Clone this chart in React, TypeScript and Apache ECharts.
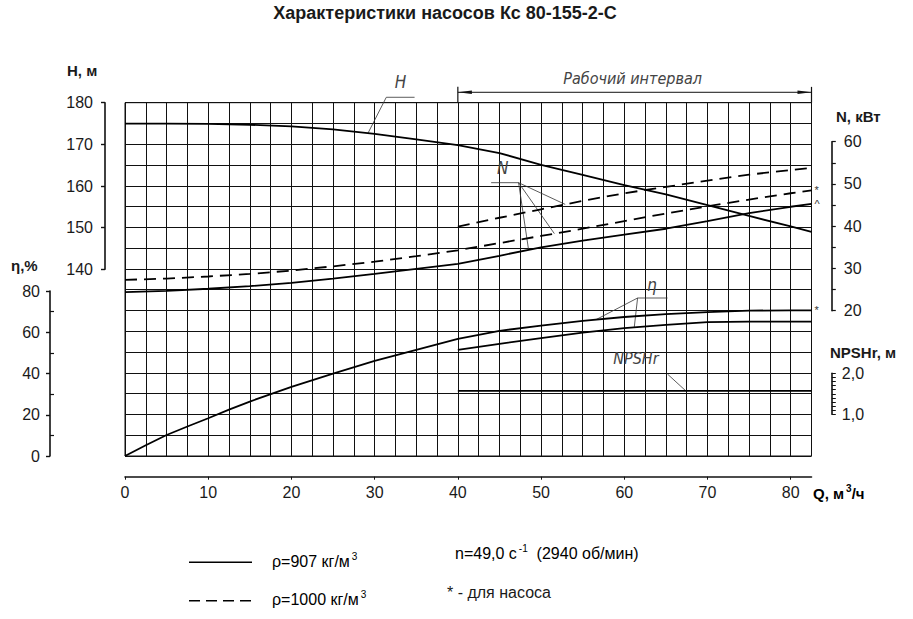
import React, { useEffect, useRef } from 'react';
import * as echarts from 'echarts';

const FONT = 'Liberation Sans, Arial, sans-serif';
const ITALIC_FONT = 'Liberation Sans Narrow, DejaVu Sans Condensed, Liberation Sans, sans-serif';

// Q, m3/h
const Q_FULL = [0, 5, 10, 15, 20, 25, 30, 35, 40, 45, 50, 55, 60, 65, 70, 75, 80, 82.5];
const Q_WORK = [40, 45, 50, 55, 60, 65, 70, 75, 80, 82.5];
const Q_ETA = [0, 2.5, 5, 7.5, 10, 12.5, 15, 20, 25, 30, 35, 40, 45, 50, 55, 60, 65, 70, 75, 80, 82.5];
const Q_TICKS = [0, 10, 20, 30, 40, 50, 60, 70, 80];

// H, m
const H_907 = [175, 175, 174.9, 174.7, 174.3, 173.6, 172.5, 171.2, 169.8, 167.9, 165.1, 162.7, 160.2, 158, 155.4, 152.8, 150.3, 149];
// N, kW
const N_907 = [24.4, 24.7, 25.2, 25.8, 26.6, 27.6, 28.7, 29.9, 31.1, 33.0, 35.0, 36.6, 38.0, 39.4, 41.2, 43.1, 44.6, 45.3];
const N_1000 = [27.3, 27.6, 28.1, 28.7, 29.5, 30.5, 31.6, 32.9, 34.3, 36, 37.7, 39.4, 41.2, 43, 44.7, 46.3, 47.8, 48.5];
const N_1000_UNIT = [39.9, 42, 44, 46, 47.8, 49.3, 50.8, 52.2, 53.3, 53.8];
// eta, %
const ETA_PUMP = [0, 5.2, 10.2, 14.3, 18.3, 22.5, 26.4, 33.5, 39.9, 46.1, 51.5, 56.8, 60.7, 63.2, 65.5, 67.4, 68.8, 69.8, 70.5, 70.6, 70.6];
const ETA_UNIT = [51.5, 54.4, 57.2, 59.8, 62.0, 63.6, 64.9, 65.2, 65.2, 65.2];
// NPSHr, m
const Q_NPSH = [40, 82.5];
const NPSH = [1.57, 1.57];

const pairs = (xs: number[], ys: number[]) => xs.map((x, i) => [x, ys[i]]);

const interp = (xs: number[], ys: number[], x: number) => {
  for (let i = 1; i < xs.length; i++) {
    if (x <= xs[i]) {
      const t = (x - xs[i - 1]) / (xs[i] - xs[i - 1]);
      return ys[i - 1] + t * (ys[i] - ys[i - 1]);
    }
  }
  return ys[ys.length - 1];
};

const INK = '#111';
const axisText = { color: '#1a1a1a', fontFamily: FONT, fontSize: 16 };
const axisLine = { show: true, onZero: false, lineStyle: { color: INK, width: 1.6 } };

const hiddenX = (gridIndex: number) => ({ type: 'value', gridIndex, min: 0, max: 82.5, show: false });

const curve = (name: string, xi: number, yi: number, data: number[][], dashed = false) => ({
  type: 'line',
  name,
  xAxisIndex: xi,
  yAxisIndex: yi,
  data,
  symbol: 'none',
  clip: false,
  silent: true,
  lineStyle: { color: '#000', width: 1.8, type: dashed ? [12, 7] : 'solid' },
});

const App: React.FC = () => {
  const chartRef = useRef<HTMLDivElement>(null);

  useEffect(() => {
    if (!chartRef.current) return;
    const chart = echarts.init(chartRef.current, undefined, { renderer: 'svg' });

    const option: any = {
      animation: false,
      textStyle: { fontFamily: FONT },
      grid: [
        { left: 125, top: 102.7, width: 686.5, height: 353.3, show: true, borderColor: INK, borderWidth: 1 },
        { left: 125, top: 102.7, width: 686.5, height: 166.6 },
        { left: 125, top: 291, width: 686.5, height: 165 },
        { left: 125, top: 141.7, width: 686.5, height: 169 },
        { left: 125, top: 373.3, width: 686.5, height: 41 },
      ],
      xAxis: [
        {
          type: 'value', gridIndex: 0, min: 0, max: 82.5, interval: 2.5,
          axisLine: { show: false }, axisTick: { show: false }, axisLabel: { show: false },
          splitLine: { show: true, lineStyle: { color: INK, width: 1 } },
        },
        {
          type: 'value', gridIndex: 0, position: 'bottom', offset: 20.7, min: 0, max: 82.5, interval: 10,
          axisLine,
          axisTick: { show: true, length: 3, customValues: Q_TICKS, lineStyle: { color: INK } },
          axisLabel: { customValues: Q_TICKS, margin: 8, ...axisText },
          splitLine: { show: false },
        },
        hiddenX(1), hiddenX(2), hiddenX(3), hiddenX(4),
      ],
      yAxis: [
        {
          type: 'value', gridIndex: 0, min: 0, max: 17, interval: 1,
          axisLine: { show: false }, axisTick: { show: false }, axisLabel: { show: false },
          splitLine: { show: true, lineStyle: { color: INK, width: 1 } },
        },
        {
          type: 'value', gridIndex: 1, position: 'left', offset: 20, min: 140, max: 180, interval: 10,
          axisLine,
          axisTick: { show: true, length: 4, lineStyle: { color: INK, width: 1.4 } },
          axisLabel: { margin: 12, ...axisText },
          splitLine: { show: false },
        },
        {
          type: 'value', gridIndex: 2, position: 'left', offset: 75, min: 0, max: 80, interval: 20,
          axisLine,
          axisTick: { show: true, length: 4, lineStyle: { color: INK, width: 1.4 } },
          axisLabel: { margin: 10, ...axisText },
          splitLine: { show: false },
        },
        {
          type: 'value', gridIndex: 2, position: 'left', offset: 75, min: 0, max: 80, interval: 10,
          axisLine: { show: false, onZero: false },
          axisTick: { show: true, inside: true, length: 4, customValues: [10, 30, 50, 70], lineStyle: { color: INK, width: 1.2 } },
          axisLabel: { show: false },
          splitLine: { show: false },
        },
        {
          type: 'value', gridIndex: 3, position: 'right', offset: 20.3, min: 20, max: 60, interval: 5,
          axisLine,
          axisTick: { show: true, length: 4, lineStyle: { color: INK, width: 1.2 } },
          axisLabel: { margin: 12, ...axisText, formatter: (v: number) => (v % 10 === 0 ? String(v) : '') },
          splitLine: { show: false },
        },
        {
          type: 'value', gridIndex: 4, position: 'right', offset: 20.3, min: 1, max: 2, interval: 0.1,
          axisLine,
          axisTick: { show: true, length: 4, lineStyle: { color: INK, width: 1 } },
          axisLabel: {
            margin: 10, ...axisText,
            formatter: (v: number) => (Math.abs(v - Math.round(v)) < 1e-6 ? Math.round(v).toFixed(1).replace('.', ',') : ''),
          },
          splitLine: { show: false },
        },
      ],
      series: [
        curve('H', 2, 1, pairs(Q_FULL, H_907)),
        curve('N 907', 4, 4, pairs(Q_FULL, N_907)),
        curve('N 1000', 4, 4, pairs(Q_FULL, N_1000), true),
        curve('N 1000 агрегат', 4, 4, pairs(Q_WORK, N_1000_UNIT), true),
        curve('η насос', 3, 2, pairs(Q_ETA, ETA_PUMP)),
        curve('η агрегат', 3, 2, pairs(Q_WORK, ETA_UNIT)),
        curve('NPSHr', 5, 5, pairs(Q_NPSH, NPSH)),
      ],
    };
    chart.setOption(option);

    const px = (seriesIndex: number, q: number, v: number) =>
      chart.convertToPixel({ seriesIndex }, [q, v]) as number[];
    const ln = (a: number[], b: number[], w = 0.8, color = '#333') => ({
      type: 'line', silent: true,
      shape: { x1: a[0], y1: a[1], x2: b[0], y2: b[1] },
      style: { stroke: color, lineWidth: w },
    });
    const label = (p: number[], text: string, size = 17) => ({
      type: 'text', silent: true, x: p[0], y: p[1],
      style: { text, fill: '#444', font: `italic ${size}px ${ITALIC_FONT}`, align: 'center', verticalAlign: 'middle' },
    });
    const plain = (x: number, y: number, text: string, size = 16, weight = 'normal', align = 'left') => ({
      type: 'text', silent: true, x, y,
      style: { text, fill: '#1a1a1a', font: `${weight} ${size}px ${FONT}`, align, verticalAlign: 'middle' },
    });
    const sup = (x: number, y: number, text: string, size: number, weight = 'normal') => ({
      type: 'text', silent: true, x, y,
      style: {
        text, align: 'left', verticalAlign: 'middle',
        rich: {
          t: { fontFamily: FONT, fontSize: size, fontWeight: weight, color: '#1a1a1a', lineHeight: 20 },
          s: { fontFamily: FONT, fontSize: 10, fontWeight: weight, color: '#1a1a1a', lineHeight: 11, verticalAlign: 'top', padding: [0, 0, 0, 2] },
        },
      },
    });
    const star = (p: number[], text: string) => ({
      type: 'text', silent: true, x: p[0] + 3, y: p[1],
      style: { text, fill: '#333', font: `11px ${FONT}`, align: 'left', verticalAlign: 'middle' },
    });

    // рабочий интервал
    const wl = px(0, 40, 183.8);
    const wr = px(0, 82.5, 183.8);
    const gl = px(0, 40, 180);
    const gr = px(0, 82.5, 180);
    const ay = px(0, 40, 182.5)[1];
    const work = [
      ln(wl, gl, 1.2, INK),
      ln(wr, gr, 1.2, INK),
      ln([wl[0], ay], [wr[0], ay], 1, INK),
      { type: 'polygon', silent: true, shape: { points: [[wl[0], ay], [wl[0] + 14, ay - 1.8], [wl[0] + 14, ay + 1.8]] }, style: { fill: INK } },
      { type: 'polygon', silent: true, shape: { points: [[wr[0], ay], [wr[0] - 14, ay - 1.8], [wr[0] - 14, ay + 1.8]] }, style: { fill: INK } },
      label(px(0, 61, 185.7), 'Рабочий интервал', 16),
    ];

    // H
    const hA = px(0, 31.4, 181.3);
    const hB = px(0, 34.8, 181.3);
    const hC = px(0, 29.2, interp(Q_FULL, H_907, 29.2));
    // N
    const nA = px(1, 44.0, 50.3);
    const nB = px(1, 47.3, 50.3);
    // eta
    const eA = px(4, 61.6, 76.6);
    const eB = px(4, 65.2, 76.6);
    // NPSHr
    const sA = px(6, 65.2, 1.98);

    const marks = [
      label(px(0, 33.1, 185), 'H'),
      ln(hA, hB), ln(hA, hC),
      label(px(1, 45.4, 53.8), 'N'),
      ln(nA, nB),
      ln(nB, px(3, 52.9, interp(Q_WORK, N_1000_UNIT, 52.9))),
      ln(nB, px(2, 51.6, interp(Q_FULL, N_1000, 51.6))),
      ln(nB, px(1, 48.5, interp(Q_FULL, N_907, 48.5))),
      label(px(4, 63.3, 83), 'η'),
      ln(eA, eB),
      ln(eA, px(4, 56.6, interp(Q_ETA, ETA_PUMP, 56.6))),
      ln(eA, px(5, 61.2, interp(Q_WORK, ETA_UNIT, 61.2))),
      label(px(6, 61.4, 2.37), 'NPSHr', 16),
      ln(sA, px(6, 67.4, 1.57)),
      star(px(2, 82.5, N_1000[N_1000.length - 1]), '*'),
      star(px(1, 82.5, N_907[N_907.length - 1]), '^'),
      star(px(4, 82.5, ETA_PUMP[ETA_PUMP.length - 1]), '*'),
    ];

    const statics = [
      plain(445, 13, 'Характеристики насосов Кс 80-155-2-С', 18, 'bold', 'center'),
      plain(67, 70, 'H, м', 15, 'bold'),
      plain(11, 265, 'η,%', 15, 'bold'),
      plain(836, 116, 'N, кВт', 15, 'bold'),
      plain(830, 352, 'NPSHr, м', 15, 'bold'),
      sup(813, 493, '{t|Q, м}{s|3}{t|/ч}', 15, 'bold'),
      ln([189, 562.3], [252, 562.3], 1.6, '#000'),
      { type: 'line', silent: true, shape: { x1: 189, y1: 600.7, x2: 252, y2: 600.7 }, style: { stroke: '#000', lineWidth: 1.6, lineDash: [11, 6] } },
      sup(272, 561, '{t|ρ=907 кг/м}{s|3}', 16),
      sup(272, 599, '{t|ρ=1000 кг/м}{s|3}', 16),
      sup(455, 553, '{t|n=49,0 с}{s|-1}{t|  (2940 об/мин)}', 16),
      plain(447, 592, '* - для насоса', 16),
    ];

    chart.setOption({ graphic: [...work, ...marks, ...statics] });

    return () => {
      chart.dispose();
    };
  }, []);

  return (
    <div
      ref={chartRef}
      style={{ position: 'absolute', left: 0, top: 0, width: 913, height: 619, background: '#fff' }}
    />
  );
};

export default App;
